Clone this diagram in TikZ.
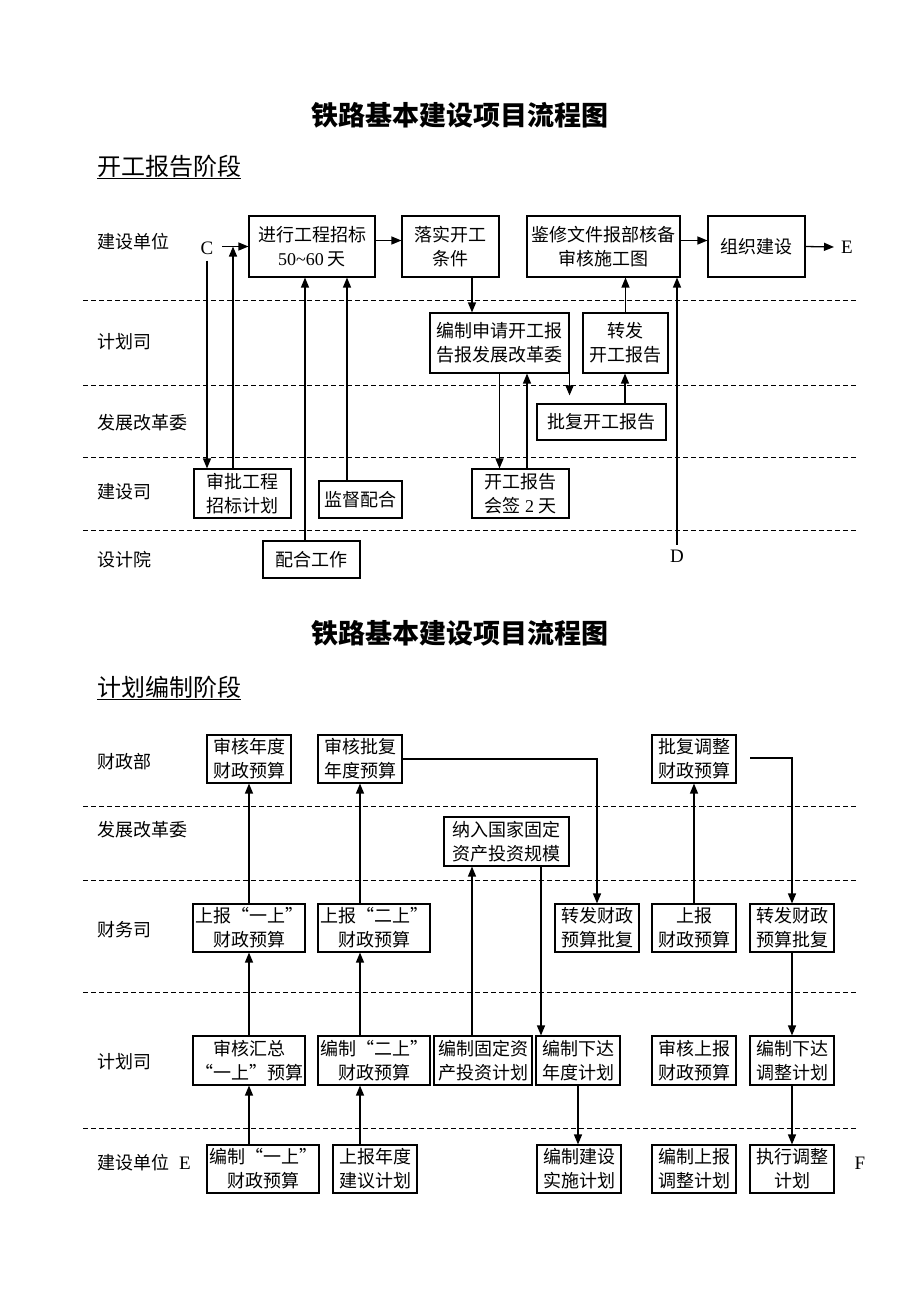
\documentclass[tikz,border=0pt]{standalone}
\usepackage{fontspec}
\setmainfont{Noto Sans CJK SC}
\newfontfamily\tnr{Liberation Serif}
\usepackage{tikz}
\usetikzlibrary{positioning,arrows.meta}
\newcommand\boxfont{\fontsize{18}{24}\selectfont}

\begin{document}
\begin{tikzpicture}[
      x=1pt, y=-1pt,
      box/.style   = {rectangle, draw, line width=1.1pt, inner sep=0pt, align=center, font=\boxfont},
      sbox/.style  = {box, minimum width=84pt, minimum height=48pt},
      lane/.style  = {anchor=west, inner sep=0pt, font=\boxfont},
      let/.style   = {inner sep=1pt, font=\tnr\fontsize{19}{24}\selectfont},
      sep/.style   = {draw, line width=1pt, dash pattern=on 5pt off 3pt},
      arr/.style   = {-{Triangle[length=10pt, width=8pt]}, draw, line width=1.3pt},
      ttl/.style   = {font=\fontsize{27}{30}\selectfont\bfseries},
      sub/.style   = {anchor=west, inner sep=0pt, font=\fontsize{24}{28}\selectfont},
    ]
    \useasboundingbox (0,0) rectangle (920,1302);

    %% ------------------------------------------------ part 1 (开工报告阶段)
    \node[ttl] (t1) at (460,115) {铁路基本建设项目流程图};
    \node[sub] (s1) at (97,167) {\underline{开工报告阶段}};

    \node[lane] (l11) at (97,242) {建设单位};
    \node[lane] (l12) at (97,342) {计划司};
    \node[lane] (l13) at (97,423) {发展改革委};
    \node[lane] (l14) at (97,492) {建设司};
    \node[lane] (l15) at (97,560) {设计院};
    \draw[sep] (83,300) -- (858,300);
    \draw[sep] (83,385) -- (858,385);
    \draw[sep] (83,457) -- (858,457);
    \draw[sep] (83,530) -- (858,530);

    \node[box, minimum width=126pt, minimum height=61pt] (zb) at (312,246.5)
      {进行工程招标\\{\tnr 50\textasciitilde 60} 天};
    \node[box, minimum width=97pt, minimum height=61pt] (ls) at (450.5,246.5) {落实开工\\条件};
    \node[box, minimum width=153pt, minimum height=61pt] (jx) at (603.5,246.5)
      {鉴修文件报部核备\\审核施工图};
    \node[box, minimum width=97pt, minimum height=61pt] (zz) at (756.5,246.5) {组织建设};
    \node[box, minimum width=139pt, minimum height=60pt] (bs) at (499.5,343)
      {编制申请开工报\\告报发展改革委};
    \node[box, minimum width=85pt, minimum height=60pt] (zf) at (625.5,343) {转发\\开工报告};
    \node[box, minimum width=129pt, minimum height=36pt] (pf) at (601.5,422) {批复开工报告};
    \node[box, minimum width=97pt, minimum height=49pt] (sp) at (242.5,493.5) {审批工程\\招标计划};
    \node[box, minimum width=83pt, minimum height=37pt] (jd) at (360.5,499.5) {监督配合};
    \node[box, minimum width=97pt, minimum height=49pt] (hq) at (520.5,493.5)
      {开工报告\\会签 {\tnr 2} 天};
    \node[box, minimum width=97pt, minimum height=37pt] (ph) at (311.5,559.5) {配合工作};

    \node[let] (cc) at (207,248) {C};
    \node[let] (ee) at (847,247) {E};
    \node[let] (dd) at (677,556) {D};
    \coordinate (cin) at (222,246.5);

    \draw[arr] (cin) -- (zb.west);
    \draw[arr] ([yshift=-5pt]cc.south) -- (cc.south |- sp.north);
    \draw[arr] ([xshift=-9.5pt]sp.north) -- ([xshift=-9.5pt]sp.north |- cin);
    \draw[arr] ([xshift=-6.5pt]ph.north) -- ([xshift=-6.5pt]ph.north |- zb.south);
    \draw[arr] ([xshift=-13.5pt]jd.north) -- ([xshift=-13.5pt]jd.north |- zb.south);
    \draw[arr] ([yshift=6pt]zb.east) -- ([yshift=6pt]zb.east -| ls.west);
    \draw[arr] ([xshift=21.5pt]ls.south) -- ([xshift=21.5pt]ls.south |- bs.north);
    \draw[arr] (bs.south east) -- ([yshift=8pt]bs.south east |- pf.north);
    \draw[arr] ([xshift=23.5pt]pf.north) -- ([xshift=23.5pt]pf.north |- zf.south);
    \draw[arr] (zf.north) -- (zf.north |- jx.south);
    \draw[arr] (bs.south) -- (bs.south |- hq.north);
    \draw[arr] ([xshift=6.5pt]hq.north) -- ([xshift=6.5pt]hq.north |- bs.south);
    \draw[arr] ([yshift=4pt]dd.north) -- (dd.north |- jx.south);
    \draw[arr] ([yshift=6pt]jx.east) -- ([yshift=6pt]jx.east -| zz.west);
    \draw[arr] (zz.east) -- ([xshift=-6pt]ee.west);

    %% ------------------------------------------------ part 2 (计划编制阶段)
    \node[ttl] (t2) at (460,633) {铁路基本建设项目流程图};
    \node[sub] (s2) at (97,688) {\underline{计划编制阶段}};

    \node[lane] (l21) at (97,762) {财政部};
    \node[lane] (l22) at (97,830) {发展改革委};
    \node[lane] (l23) at (97,930) {财务司};
    \node[lane] (l24) at (97,1062) {计划司};
    \node[lane] (l25) at (97,1163) {建设单位};
    \draw[sep] (83,806) -- (858,806);
    \draw[sep] (83,880) -- (858,880);
    \draw[sep] (83,992) -- (858,992);
    \draw[sep] (83,1128) -- (858,1128);

    % row 财政部
    \node[sbox] (sn)  at (249,759) {审核年度\\财政预算};
    \node[sbox] (sp2) at (360,759) {审核批复\\年度预算};
    \node[sbox] (pt)  at (694,759) {批复调整\\财政预算};
    % row 发展改革委
    \node[box, minimum width=125pt, minimum height=49pt] (nr) at (506.5,841.5)
      {纳入国家固定\\资产投资规模};
    % row 财务司
    \node[sbox, minimum width=112pt] (ys1) at (249,928) {上报“一上”\\财政预算};
    \node[sbox, minimum width=112pt] (ys2) at (374,928) {上报“二上”\\财政预算};
    \node[sbox] (zf1) at (597,928) {转发财政\\预算批复};
    \node[sbox] (sb)  at (694,928) {上报\\财政预算};
    \node[sbox] (zf2) at (792,928) {转发财政\\预算批复};
    % row 计划司
    \node[sbox, minimum width=112pt, minimum height=49pt] (hz) at (249,1060.5)
      {审核汇总\\“一上”预算};
    \node[sbox, minimum width=112pt, minimum height=49pt] (bz2) at (374,1060.5)
      {编制“二上”\\财政预算};
    \node[sbox, minimum width=98pt, minimum height=49pt] (gd) at (483,1060.5)
      {编制固定资\\产投资计划};
    \node[sbox, minimum height=49pt] (xd)  at (578,1060.5) {编制下达\\年度计划};
    \node[sbox, minimum height=49pt] (shb) at (694,1060.5) {审核上报\\财政预算};
    \node[sbox, minimum height=49pt] (xt)  at (792,1060.5) {编制下达\\调整计划};
    % row 建设单位
    \node[sbox, minimum width=112pt] (by) at (263,1169) {编制“一上”\\财政预算};
    \node[sbox] (sn2) at (375,1169) {上报年度\\建议计划};
    \node[sbox] (js)  at (579,1169) {编制建设\\实施计划};
    \node[sbox] (bsb) at (694,1169) {编制上报\\调整计划};
    \node[sbox] (zx)  at (792,1169) {执行调整\\计划};

    \node[let] (e2) at (185,1163) {E};
    \node[let] (ff) at (860,1163) {F};
    \coordinate (pin) at (750,758);

    \draw[arr] ([xshift=-14pt]by.north) -- ([xshift=-14pt]by.north |- hz.south);
    \draw[arr] (hz.north) -- (hz.north |- ys1.south);
    \draw[arr] (ys1.north) -- (ys1.north |- sn.south);
    \draw[arr] ([xshift=-15pt]sn2.north) -- ([xshift=-15pt]sn2.north |- bz2.south);
    \draw[arr] ([xshift=-14pt]bz2.north) -- ([xshift=-14pt]bz2.north |- ys2.south);
    \draw[arr] ([xshift=-14pt]ys2.north) -- ([xshift=-14pt]ys2.north |- sp2.south);
    \draw[arr] ([xshift=-11pt]gd.north) -- ([xshift=-11pt]gd.north |- nr.south);
    \draw[arr] ([xshift=34.5pt]nr.south) -- ([xshift=34.5pt]nr.south |- xd.north);
    \draw[arr] (sp2.east) -| (zf1.north);
    \draw[arr] (xd.south) -- (xd.south |- js.north);
    \draw[arr] (sb.north) -- (sb.north |- pt.south);
    \draw[arr] (pin) -| (zf2.north);
    \draw[arr] (zf2.south) -- (zf2.south |- xt.north);
    \draw[arr] (xt.south) -- (xt.south |- zx.north);
  \end{tikzpicture}
\end{document}
